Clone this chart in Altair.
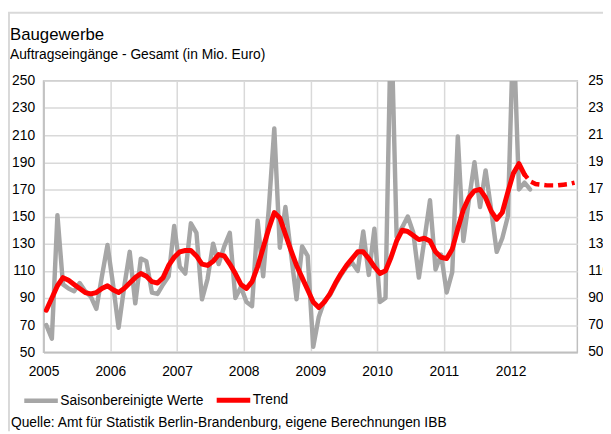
import altair as alt
import pandas as pd

years = [2005, 2006, 2007, 2008, 2009, 2010, 2011, 2012]
y_ticks = [50, 70, 90, 110, 130, 150, 170, 190, 210, 230, 250]

# Saisonbereinigte Werte, monthly Jan 2005 - Apr 2012
saison = [
    70, 60, 151, 100, 97, 95, 101, 95, 91, 82, 106, 129,
    100, 68, 98, 124, 86, 119, 117, 94, 93, 100, 106, 143,
    113, 108, 145, 138, 89, 104, 130, 115, 128, 138, 90, 98,
    87, 84, 147, 106, 155, 215, 127, 157, 123, 89, 128, 121,
    54, 76, 88, 92, 100, 107, 113, 116, 110, 139, 107, 141,
    87, 90, 300, 135, 142, 150, 138, 105, 133, 162, 111, 122,
    94, 109, 209, 132, 162, 190, 157, 184, 155, 124, 134, 150,
    290, 170, 175, 170,
]
# Trend, monthly Jan 2005 - Mar 2012
trend = [
    81, 90, 99, 105, 103, 100, 97, 94, 93, 94, 97, 99,
    96, 94, 97, 101, 105, 108, 106, 102, 101, 105, 114, 120,
    124, 125, 125, 121, 115, 114, 117, 122, 121, 115, 108, 100,
    97, 102, 113, 127, 141, 153, 149, 137, 125, 114, 105, 96,
    87, 83, 87, 93, 101, 108, 114, 119, 124, 124, 119, 113,
    108, 110, 120, 132, 140, 139, 136, 133, 134, 132, 124, 120,
    119, 126, 141, 155, 164, 169, 170, 164, 154, 148, 153, 168,
    182, 189, 181,
]
# Trend projection (dashed), Mar 2012 - Dec 2012
prognose_start = 86
prognose = [181, 176, 174, 173.5, 173, 173, 173, 173.5, 174, 175]

series_names = ["Saisonbereinigte Werte", "Trend"]
series_colors = ["#A6A6A6", "#FF0000"]


def month_pos(i):
    return 2005 + (i + 0.5) / 12


df_s = pd.DataFrame({"t": [month_pos(i) for i in range(len(saison))], "v": saison,
                     "serie": series_names[0]})
df_t = pd.DataFrame({"t": [month_pos(i) for i in range(len(trend))], "v": trend,
                     "serie": series_names[1]})
df_p = pd.DataFrame({"t": [month_pos(prognose_start + i) for i in range(len(prognose))],
                     "v": prognose})
df_lines = pd.concat([df_s, df_t])

W, H = 541, 275
FONT = "Liberation Sans"
FS = 14

xs = alt.Scale(domain=[2005, 2013], nice=False, zero=False)
ys = alt.Scale(domain=[50, 250], nice=False, zero=False)

x_axis = alt.Axis(values=years, format="d", title=None, grid=True, ticks=False, labelPadding=13,
                  labelFlush=False, labelOverlap=False, labelFontSize=FS, labelFont=FONT,
                  labelColor="#000000")
y_axis = alt.Axis(values=y_ticks, title=None, grid=True, ticks=False, labelPadding=9,
                  labelOverlap=False, labelFontSize=FS, labelFont=FONT, labelColor="#000000")
x_enc = alt.X("t:Q", scale=xs, axis=x_axis)
y_enc = alt.Y("v:Q", scale=ys, axis=y_axis)

color = alt.Color("serie:N", scale=alt.Scale(domain=series_names, range=series_colors),
                  legend=alt.Legend(title=None, orient="none", legendX=-22, legendY=304,
                                    direction="horizontal", symbolType="stroke",
                                    symbolSize=1156, symbolStrokeWidth=5,
                                    labelFontSize=FS, labelFont=FONT, labelColor="#000000",
                                    labelOffset=0, columnPadding=2, padding=0))

lines = alt.Chart(df_lines).mark_line(clip=True, strokeJoin="round", strokeCap="round").encode(
    x=x_enc, y=y_enc, color=color,
    strokeWidth=alt.StrokeWidth("serie:N", scale=alt.Scale(domain=series_names, range=[4.5, 5]),
                                legend=None),
    order="t:Q",
)

dashed = alt.Chart(df_p).mark_line(color="#FF0000", strokeWidth=4.5, strokeDash=[9, 5],
                                   strokeDashOffset=4, strokeCap="butt").encode(
    x=x_enc, y=y_enc)

right_labels = alt.Chart(pd.DataFrame({"v": y_ticks})).mark_text(
    align="left", baseline="middle", fontSize=FS, font=FONT, color="#000000").encode(
    x=alt.value(W + 11), y=y_enc, text=alt.Text("v:Q"))

title = alt.Chart(pd.DataFrame({"txt": ["Baugewerbe"]})).mark_text(
    align="left", baseline="alphabetic", fontSize=17, font=FONT, color="#000000").encode(
    x=alt.value(-34), y=alt.value(-41.5), text="txt:N")

subtitle = alt.Chart(pd.DataFrame({"txt": ["Auftragseingänge - Gesamt (in Mio. Euro)"]})).mark_text(
    align="left", baseline="alphabetic", fontSize=FS, font=FONT, color="#000000").encode(
    x=alt.value(-34), y=alt.value(-22), text="txt:N")

source = alt.Chart(pd.DataFrame({"txt": ["Quelle: Amt für Statistik Berlin-Brandenburg, eigene Berechnungen IBB"]})).mark_text(
    align="left", baseline="middle", fontSize=FS, font=FONT, color="#000000").encode(
    x=alt.value(-33), y=alt.value(347), text="txt:N")

frame_left = alt.Chart(pd.DataFrame({"a": [0]})).mark_rule(color="#D9D9D9", strokeWidth=2).encode(
    x=alt.value(-35), y=alt.value(-69), y2=alt.value(H + 80))
frame_top = alt.Chart(pd.DataFrame({"a": [0]})).mark_rule(color="#D9D9D9", strokeWidth=2).encode(
    x=alt.value(-36), x2=alt.value(W + 30), y=alt.value(-69))

chart = alt.layer(lines, dashed, right_labels, title, subtitle, source, frame_left, frame_top).properties(
    width=W, height=H,
    background="white",
    autosize=alt.AutoSizeParams(type="none"),
    padding={"left": 36, "top": 71, "right": 26, "bottom": 80},
).configure_view(
    stroke="#BFBFBF", strokeWidth=1.5
).configure_axis(
    gridColor="#D9D9D9", gridWidth=1.5, domainColor="#BFBFBF", domainWidth=1.5,
    labelFont=FONT, labelFontSize=FS, labelColor="#000000", labelOverlap=False
)

chart.save("out.html", embed_options={"renderer": "svg", "actions": False})
